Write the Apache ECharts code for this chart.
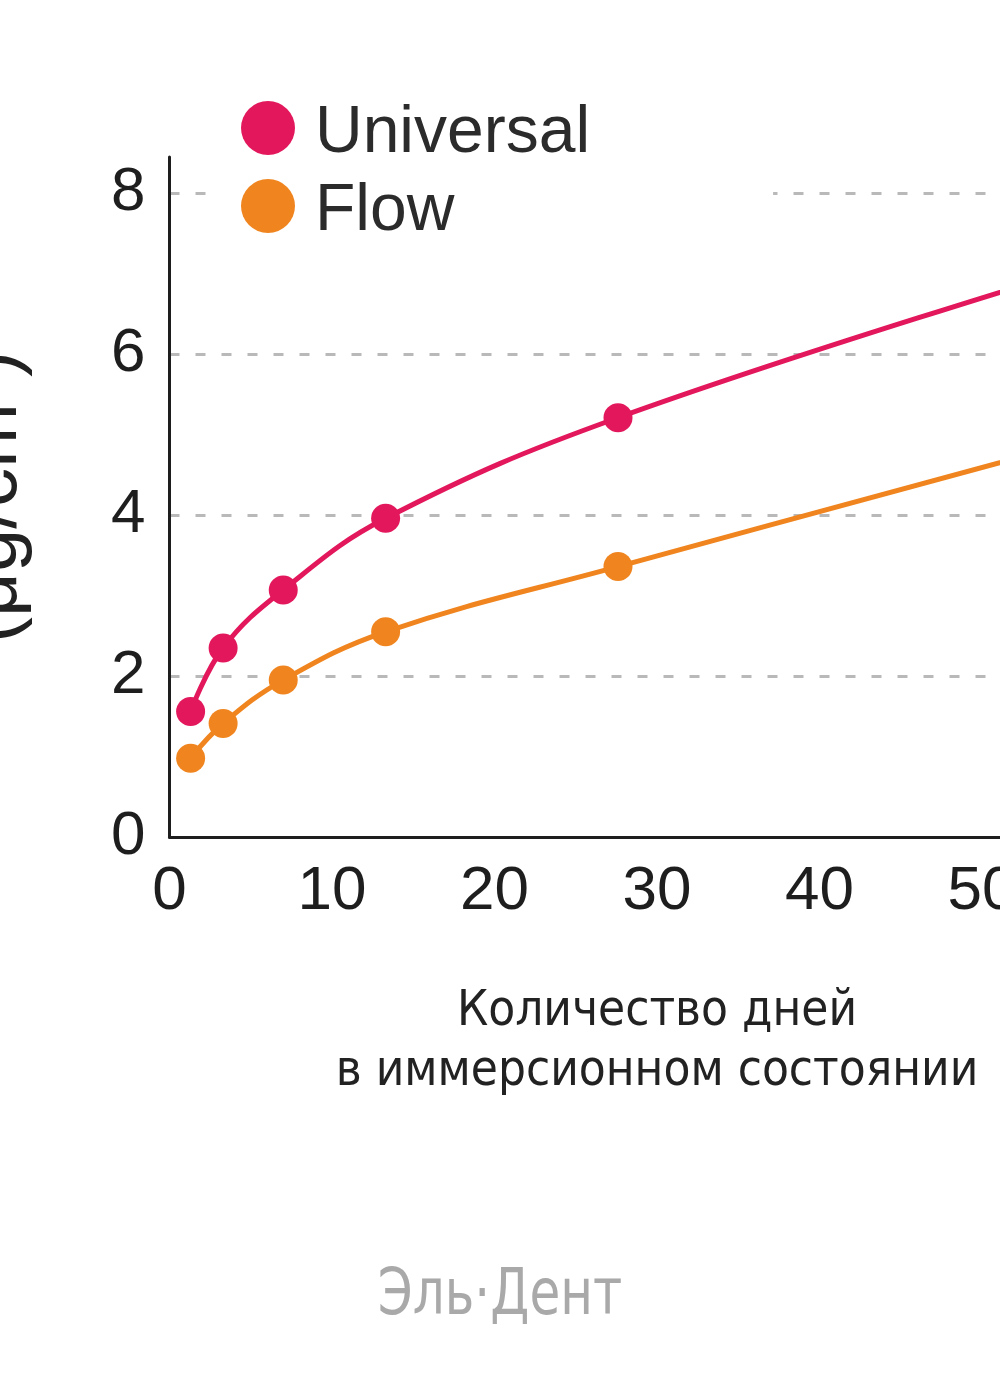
<!DOCTYPE html>
<html>
<head>
<meta charset="utf-8">
<script src="https://cdn.jsdelivr.net/npm/echarts@6/dist/echarts.min.js"></script>
<style>
html,body{margin:0;padding:0;background:#fff;}
#chart{width:1000px;height:1400px;}
</style>
</head>
<body>
<div id="chart"></div>
<script>
// Data
const seriesNames = ['Universal', 'Flow'];
const days = [1.3, 3.3, 7, 13.3, 27.6, 56];
const universalValues = [1.56, 2.35, 3.07, 3.96, 5.21, 7.07];
const flowValues = [0.98, 1.41, 1.95, 2.55, 3.36, 4.92];
const xTickValues = [0, 10, 20, 30, 40, 50, 60];
const yTickValues = [0, 2, 4, 6, 8];
const xAxisTitle = 'Количество дней\nв иммерсионном состоянии';
const yAxisTitle = '(μg/cm²)';
const watermark = 'Эль·Дент';

const colors = ['#E3175B', '#F0851F'];

function pairs(xs, ys) { return xs.map((x, i) => [x, ys[i]]); }

const chart = echarts.init(document.getElementById('chart'), null, {renderer: 'canvas'});
const baseFont = '"Liberation Sans", Arial, Helvetica, sans-serif';

chart.setOption({
  backgroundColor: '#ffffff',
  animation: false,
  color: colors,
  grid: { left: 169.5, top: 157, width: 975, height: 680, containLabel: false, outerBoundsMode: 'none' },
  legend: {
    orient: 'vertical',
    left: 208,
    top: 81,
    padding: [20, 183, 20, 33],
    backgroundColor: '#ffffff',
    itemWidth: 84,
    itemHeight: 54,
    itemGap: 12,
    icon: 'circle',
    data: seriesNames,
    formatter: '{t|{name}}',
    textStyle: {
      fontSize: 66, color: '#2b2b2b', fontFamily: baseFont,
      rich: { t: { fontSize: 66, color: '#2b2b2b', fontFamily: baseFont, padding: [12, 0, 0, 0] } }
    }
  },
  xAxis: {
    type: 'value',
    min: xTickValues[0],
    max: xTickValues[xTickValues.length - 1],
    interval: xTickValues[1] - xTickValues[0],
    name: xAxisTitle,
    nameLocation: 'middle',
    nameGap: 145,
    nameTextStyle: {
      fontSize: 49, lineHeight: 60, color: '#222',
      fontFamily: '"DejaVu Sans Condensed", "DejaVu Sans", Verdana, sans-serif'
    },
    axisLine: { show: true, lineStyle: { color: '#1e1e1e', width: 3 } },
    axisTick: { show: false },
    axisLabel: { fontSize: 62, color: '#1e1e1e', margin: 24, fontFamily: baseFont },
    splitLine: { show: false }
  },
  yAxis: {
    type: 'value',
    min: yTickValues[0],
    max: 8.45,
    interval: yTickValues[1] - yTickValues[0],
    name: yAxisTitle,
    nameLocation: 'middle',
    nameGap: 136,
    nameTextStyle: { fontSize: 78, color: '#222', fontFamily: baseFont },
    axisLine: { show: true, lineStyle: { color: '#1e1e1e', width: 3 } },
    axisTick: { show: false },
    axisLabel: { fontSize: 62, color: '#1e1e1e', margin: 24, fontFamily: baseFont, showMaxLabel: false },
    splitLine: {
      show: true, showMinLine: false, showMaxLine: false,
      lineStyle: { color: '#b9b9b9', width: 3, type: [10, 16] }
    }
  },
  series: [
    {
      name: seriesNames[0], type: 'line', smooth: 0.4,
      data: pairs(days, universalValues),
      symbol: 'circle', symbolSize: 29, showSymbol: true,
      lineStyle: { width: 5, color: colors[0] },
      itemStyle: { color: colors[0] }
    },
    {
      name: seriesNames[1], type: 'line', smooth: 0.4,
      data: pairs(days, flowValues),
      symbol: 'circle', symbolSize: 29, showSymbol: true,
      lineStyle: { width: 5, color: colors[1] },
      itemStyle: { color: colors[1] }
    }
  ],
  graphic: [
    {
      type: 'text', x: 500, y: 1297, scaleX: 0.87,
      style: {
        text: watermark, fontSize: 64, fill: '#a9a9a9',
        align: 'center', verticalAlign: 'middle',
        fontFamily: '"Liberation Sans Narrow", "DejaVu Sans Condensed", sans-serif'
      }
    }
  ]
});
</script>
</body>
</html>
